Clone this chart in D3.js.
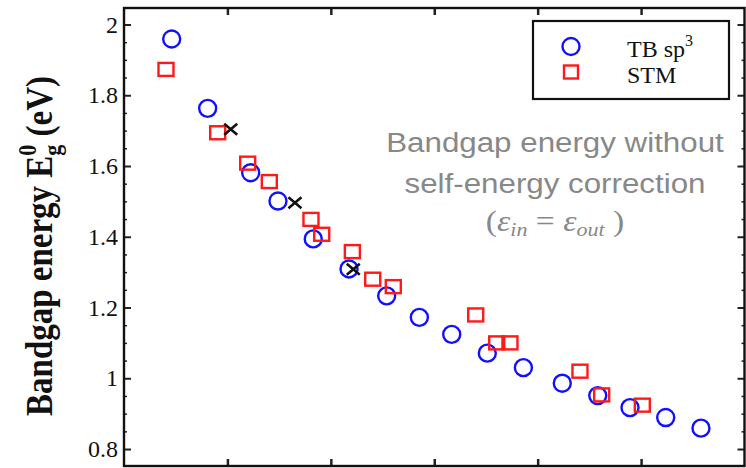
<!DOCTYPE html>
<html>
<head>
<meta charset="utf-8">
<script src="https://cdn.jsdelivr.net/npm/d3@7"></script>
<style>
  html, body { margin: 0; padding: 0; background: #fff; }
  svg { display: block; }
</style>
</head>
<body>
<svg id="chart" width="746" height="468"></svg>
<script>
// Tight-binding sp3 results
const tbX = [0.461, 0.809, 1.225, 1.489, 1.830, 2.176, 2.540, 2.856, 3.169, 3.513, 3.862, 4.238, 4.581, 4.893, 5.238, 5.579];
const tbY = [1.959, 1.763, 1.581, 1.501, 1.394, 1.309, 1.233, 1.172, 1.124, 1.071, 1.030, 0.986, 0.951, 0.917, 0.889, 0.859];

// STM measurements
const stmX = [0.406, 0.906, 1.196, 1.405, 1.808, 1.912, 2.208, 2.405, 2.604, 3.401, 3.604, 3.732, 4.409, 4.619, 5.012];
const stmY = [1.873, 1.694, 1.608, 1.556, 1.449, 1.407, 1.358, 1.280, 1.259, 1.179, 1.100, 1.100, 1.020, 0.953, 0.924];

// Additional reference points
const crossX = [1.032, 1.653, 2.217];
const crossY = [1.704, 1.496, 1.308];

const yTickValues = [0.8, 1, 1.2, 1.4, 1.6, 1.8, 2];
const yTickLabels = ["0.8", "1", "1.2", "1.4", "1.6", "1.8", "2"];
const yMinorValues = [0.85, 0.9, 0.95, 1.05, 1.1, 1.15, 1.25, 1.3, 1.35, 1.45, 1.5, 1.55, 1.65, 1.7, 1.75, 1.85, 1.9, 1.95, 2.0];
const xTickValues = [1, 2, 3, 4, 5];

const legendLabels = ["TB sp", "STM"];
const noteLines = ["Bandgap energy without", "self-energy correction"];

const svg = d3.select("#chart");
const plotLeft = 124, plotRight = 744.5, plotTop = 8, plotBottom = 466;

const x = d3.scaleLinear().domain([0, 6]).range([plotLeft, plotRight]);
const y = d3.scaleLinear().domain([0.752, 2.0466]).range([plotBottom, plotTop]);

const serif = "'Liberation Serif', 'Times New Roman', serif";
const sans = "'Liberation Sans', Arial, sans-serif";

// Axes with inward ticks
const yLeft = svg.append("g").attr("transform", `translate(${plotLeft},0)`)
  .call(d3.axisLeft(y).tickValues(yTickValues)
    .tickFormat((d, i) => yTickLabels[i]).tickSizeInner(-7).tickSizeOuter(0).tickPadding(6));
yLeft.select(".domain").remove();
yLeft.selectAll(".tick line").attr("stroke", "#222").attr("stroke-width", 2);
yLeft.selectAll(".tick text").attr("font-family", serif).attr("font-size", 24).attr("fill", "#111");

const yLeftMinor = svg.append("g").attr("transform", `translate(${plotLeft},0)`)
  .call(d3.axisLeft(y).tickValues(yMinorValues).tickFormat("").tickSizeInner(-3).tickSizeOuter(0));
yLeftMinor.select(".domain").remove();
yLeftMinor.selectAll(".tick line").attr("stroke", "#222").attr("stroke-width", 1.5);

const yRight = svg.append("g").attr("transform", `translate(${plotRight},0)`)
  .call(d3.axisRight(y).tickValues(yTickValues).tickFormat("").tickSizeInner(-7).tickSizeOuter(0));
yRight.select(".domain").remove();
yRight.selectAll(".tick line").attr("stroke", "#222").attr("stroke-width", 2);

const yRightMinor = svg.append("g").attr("transform", `translate(${plotRight},0)`)
  .call(d3.axisRight(y).tickValues(yMinorValues).tickFormat("").tickSizeInner(-3).tickSizeOuter(0));
yRightMinor.select(".domain").remove();
yRightMinor.selectAll(".tick line").attr("stroke", "#222").attr("stroke-width", 1.5);

const xBottom = svg.append("g").attr("transform", `translate(0,${plotBottom})`)
  .call(d3.axisBottom(x).tickValues(xTickValues).tickFormat("").tickSizeInner(-7).tickSizeOuter(0));
xBottom.select(".domain").remove();
xBottom.selectAll(".tick line").attr("stroke", "#222").attr("stroke-width", 2.5);

const xTop = svg.append("g").attr("transform", `translate(0,${plotTop})`)
  .call(d3.axisTop(x).tickValues(xTickValues).tickFormat("").tickSizeInner(-7).tickSizeOuter(0));
xTop.select(".domain").remove();
xTop.selectAll(".tick line").attr("stroke", "#222").attr("stroke-width", 2.5);

// Plot frame
svg.append("rect")
  .attr("x", plotLeft).attr("y", plotTop)
  .attr("width", plotRight - plotLeft).attr("height", plotBottom - plotTop)
  .attr("fill", "none").attr("stroke", "#111").attr("stroke-width", 2.4);

// Y axis title
const yTitle = svg.append("text")
  .attr("transform", `translate(52,246) scale(1.16,1) rotate(-90)`)
  .attr("text-anchor", "middle")
  .attr("font-family", serif).attr("font-weight", "bold")
  .attr("font-size", 33).attr("fill", "#111");
yTitle.append("tspan").text("Bandgap energy E");
yTitle.append("tspan").attr("font-size", 22).attr("dy", -14).text("0");
yTitle.append("tspan").attr("font-size", 22).attr("dx", -11).attr("dy", 22).text("g");
yTitle.append("tspan").attr("dy", -8).text(" (eV)");

// Annotation
const note = svg.append("g").attr("transform", "translate(555,0) scale(1.16,1)")
  .attr("fill", "#888");
noteLines.forEach((t, i) => {
  note.append("text")
    .attr("x", 0).attr("y", [152, 193][i])
    .attr("text-anchor", "middle")
    .attr("font-family", sans).attr("font-size", 27)
    .text(t);
});
const eq = note.append("text")
  .attr("x", 0).attr("y", 231)
  .attr("text-anchor", "middle")
  .attr("font-family", serif).attr("font-size", 29);
eq.append("tspan").text("(");
eq.append("tspan").attr("font-style", "italic").text("\u03b5");
eq.append("tspan").attr("font-style", "italic").attr("font-size", 19).attr("dy", 5).text("in");
eq.append("tspan").attr("dy", -5).text(" = ");
eq.append("tspan").attr("font-style", "italic").text("\u03b5");
eq.append("tspan").attr("font-style", "italic").attr("font-size", 19).attr("dy", 5).text("out");
eq.append("tspan").attr("dy", -5).text(" )");

// Markers
const blue = "#1010ff", red = "#ff1a1a";

svg.append("g").selectAll("circle")
  .data(tbX.map((d, i) => [d, tbY[i]]))
  .join("circle")
  .attr("cx", d => x(d[0])).attr("cy", d => y(d[1]))
  .attr("r", 8.5)
  .attr("fill", "none").attr("stroke", blue).attr("stroke-width", 2.4);

svg.append("g").selectAll("rect")
  .data(stmX.map((d, i) => [d, stmY[i]]))
  .join("rect")
  .attr("x", d => x(d[0]) - 7.5).attr("y", d => y(d[1]) - 6.5)
  .attr("width", 15).attr("height", 13)
  .attr("fill", "none").attr("stroke", red).attr("stroke-width", 2.4);

svg.append("g").selectAll("path")
  .data(crossX.map((d, i) => [d, crossY[i]]))
  .join("path")
  .attr("d", d => {
    const cx = x(d[0]), cy = y(d[1]), w = 6.5, h = 5.5;
    return `M${cx - w},${cy - h}L${cx + w},${cy + h}M${cx - w},${cy + h}L${cx + w},${cy - h}`;
  })
  .attr("fill", "none").attr("stroke", "#111").attr("stroke-width", 2.6);

// Legend
const lg = svg.append("g");
lg.append("rect")
  .attr("x", 533).attr("y", 21).attr("width", 196).attr("height", 78)
  .attr("fill", "#fff").attr("stroke", "#111").attr("stroke-width", 2.2);
lg.append("circle").attr("cx", 571).attr("cy", 46.5).attr("r", 8.5)
  .attr("fill", "none").attr("stroke", blue).attr("stroke-width", 2.4);
lg.append("rect").attr("x", 564).attr("y", 65.5).attr("width", 14).attr("height", 13)
  .attr("fill", "none").attr("stroke", red).attr("stroke-width", 2.4);
const l1 = lg.append("text").attr("x", 627).attr("y", 57)
  .attr("font-family", serif).attr("font-size", 24).attr("fill", "#111");
l1.append("tspan").text(legendLabels[0]);
l1.append("tspan").attr("font-size", 16).attr("dy", -11).text("3");
lg.append("text").attr("x", 627).attr("y", 83)
  .attr("font-family", serif).attr("font-size", 24).attr("fill", "#111")
  .text(legendLabels[1]);
</script>
</body>
</html>
